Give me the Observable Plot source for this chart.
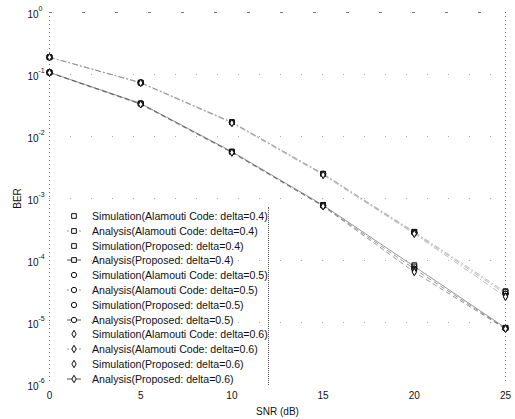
<!DOCTYPE html>
<html><head><meta charset="utf-8">
<script src="https://cdn.jsdelivr.net/npm/d3@7"></script>
<script src="https://cdn.jsdelivr.net/npm/@observablehq/plot@0.6"></script>
<style>
body{margin:0;background:#fff;font-family:Arial,"Liberation Sans",Helvetica,sans-serif;}
#wrap{position:relative;width:515px;height:419px;}
#legend{position:absolute;left:60px;top:207px;width:208px;height:178px;border-right:1px dotted #555;}
.row{position:absolute;left:0;height:14px;display:flex;align-items:center;font-size:10.6px;color:#111;white-space:nowrap;}
.row svg{margin-left:4px;margin-right:8px;}
</style></head><body><div id="wrap"><div id="legend"></div></div>
<script>
const snr = [0, 5, 10, 15, 20, 25];
const decades = [0, -1, -2, -3, -4, -5, -6];

const simAlamouti04 = [0.19, 0.074, 0.017, 0.0025, 2.9e-4, 3.2e-5];
const anaAlamouti04 = [0.19, 0.074, 0.017, 0.0025, 2.9e-4, 3.1e-5];
const simProposed04 = [0.108, 0.034, 0.0057, 7.9e-4, 8.4e-5, 8.2e-6];
const anaProposed04 = [0.108, 0.034, 0.0057, 7.8e-4, 8.0e-5, 8.2e-6];

const simAlamouti05 = [0.19, 0.074, 0.017, 0.0025, 2.8e-4, 2.9e-5];
const anaAlamouti05 = [0.19, 0.074, 0.017, 0.0025, 2.8e-4, 2.9e-5];
const simProposed05 = [0.108, 0.034, 0.0056, 7.7e-4, 7.4e-5, 8.0e-6];
const anaProposed05 = [0.108, 0.034, 0.0056, 7.6e-4, 7.3e-5, 8.0e-6];

const simAlamouti06 = [0.19, 0.073, 0.0165, 0.0024, 2.7e-4, 2.6e-5];
const anaAlamouti06 = [0.19, 0.073, 0.0165, 0.0024, 2.7e-4, 2.6e-5];
const simProposed06 = [0.107, 0.033, 0.0055, 7.5e-4, 6.6e-5, 7.9e-6];
const anaProposed06 = [0.107, 0.033, 0.0055, 7.5e-4, 6.5e-5, 7.9e-6];

const legendLabels = [
  "Simulation(Alamouti Code: delta=0.4)",
  "Analysis(Alamouti Code: delta=0.4)",
  "Simulation(Proposed: delta=0.4)",
  "Analysis(Proposed: delta=0.4)",
  "Simulation(Alamouti Code: delta=0.5)",
  "Analysis(Alamouti Code: delta=0.5)",
  "Simulation(Proposed: delta=0.5)",
  "Analysis(Proposed: delta=0.5)",
  "Simulation(Alamouti Code: delta=0.6)",
  "Analysis(Alamouti Code: delta=0.6)",
  "Simulation(Proposed: delta=0.6)",
  "Analysis(Proposed: delta=0.6)"
];

const seriesDefs = [
  {values: simAlamouti04, kind: "sim", scheme: "Alamouti", delta: 0.4},
  {values: anaAlamouti04, kind: "ana", scheme: "Alamouti", delta: 0.4},
  {values: simProposed04, kind: "sim", scheme: "Proposed", delta: 0.4},
  {values: anaProposed04, kind: "ana", scheme: "Proposed", delta: 0.4},
  {values: simAlamouti05, kind: "sim", scheme: "Alamouti", delta: 0.5},
  {values: anaAlamouti05, kind: "ana", scheme: "Alamouti", delta: 0.5},
  {values: simProposed05, kind: "sim", scheme: "Proposed", delta: 0.5},
  {values: anaProposed05, kind: "ana", scheme: "Proposed", delta: 0.5},
  {values: simAlamouti06, kind: "sim", scheme: "Alamouti", delta: 0.6},
  {values: anaAlamouti06, kind: "ana", scheme: "Alamouti", delta: 0.6},
  {values: simProposed06, kind: "sim", scheme: "Proposed", delta: 0.6},
  {values: anaProposed06, kind: "ana", scheme: "Proposed", delta: 0.6}
];
seriesDefs.forEach((s, i) => s.label = legendLabels[i]);

const rows = seriesDefs.flatMap(s => s.values.map((v, j) => ({snr: snr[j], ber: v, kind: s.kind, scheme: s.scheme, delta: s.delta, label: s.label})));
const symbolOf = {0.4: "square", 0.5: "circle", 0.6: "diamond"};
const colorOf = {Alamouti: "#888", Proposed: "#444"};

const lineMarks = ["Alamouti", "Proposed"].flatMap(scheme =>
  [0.4, 0.5, 0.6].map(delta => Plot.line(rows.filter(r => r.kind === "ana" && r.scheme === scheme && r.delta === delta), {
    x: "snr", y: "ber", stroke: colorOf[scheme], strokeWidth: 0.8,
    strokeDasharray: scheme === "Proposed" ? (delta === 0.4 ? null : "4,4") : "5,3,1,3",
    strokeOpacity: 0.7
  }))
);
const dotMarks = [0.4, 0.5, 0.6].map(delta => Plot.dot(rows.filter(r => r.delta === delta), {
  x: "snr", y: "ber", symbol: () => symbolOf[delta], r: delta === 0.6 ? 2.2 : 2.7,
  stroke: "#111", strokeWidth: 1, fill: delta === 0.6 ? "#fff" : "none"
}));

const decadeValues = decades.map(d => Math.pow(10, d));

const chart = Plot.plot({
  width: 515, height: 419,
  marginTop: 12, marginBottom: 35, marginLeft: 49, marginRight: 10,
  style: {fontFamily: "Arial, 'Liberation Sans', sans-serif", fontSize: "10px", color: "#111", background: "#fff"},
  x: {domain: [0, 25]},
  y: {type: "log", domain: [1e-6, 1]},
  marks: [
    Plot.ruleY(decadeValues.slice(1, -1), {stroke: "#aaa", strokeDasharray: "1,20", strokeWidth: 1}),
    Plot.ruleX([0, 25], {stroke: "#666", strokeDasharray: "1,3", strokeWidth: 1}),
    Plot.ruleY([1], {stroke: "#777", strokeDasharray: "3,30", strokeWidth: 1}),
    Plot.axisX({ticks: snr, tickSize: 0, tickPadding: 7, tickFormat: d => String(d), label: "SNR (dB)", labelAnchor: "center", labelArrow: "none", labelOffset: 30}),
    Plot.axisY({ticks: decadeValues, tickSize: 0, tickFormat: () => "", label: "BER", labelAnchor: "center", labelArrow: "none", labelOffset: 36}),
    Plot.text(decadeValues, {y: d => d, frameAnchor: "left", text: () => "10", textAnchor: "end", dx: -11, dy: 2, fontSize: 10}),
    Plot.text(decades, {y: d => Math.pow(10, d), frameAnchor: "left", text: d => String(d), textAnchor: "start", dx: -11, dy: -4, fontSize: 7}),
    ...lineMarks,
    ...dotMarks
  ]
});
document.getElementById("wrap").prepend(chart);

// legend
const legend = d3.select("#legend");
seriesDefs.forEach((s, i) => {
  const row = legend.append("div").attr("class", "row").style("top", (i * 14.8 + 2) + "px");
  const svg = row.append("svg").attr("width", 20).attr("height", 12);
  if (s.kind === "ana") {
    svg.append("line").attr("x1", 3).attr("x2", 17).attr("y1", 6).attr("y2", 6)
      .attr("stroke", colorOf[s.scheme]).attr("stroke-width", 0.9)
      .attr("stroke-dasharray", s.scheme === "Alamouti" ? "2,2" : null);
  }
  const type = {0.4: d3.symbolSquare, 0.5: d3.symbolCircle, 0.6: d3.symbolDiamond}[s.delta];
  svg.append("path").attr("d", d3.symbol(type, s.delta === 0.6 ? 16 : 22)())
    .attr("transform", "translate(10,6)").attr("fill", "#fff").attr("stroke", "#111").attr("stroke-width", 1);
  row.append("span").text(s.label);
});
</script>
</body></html>
